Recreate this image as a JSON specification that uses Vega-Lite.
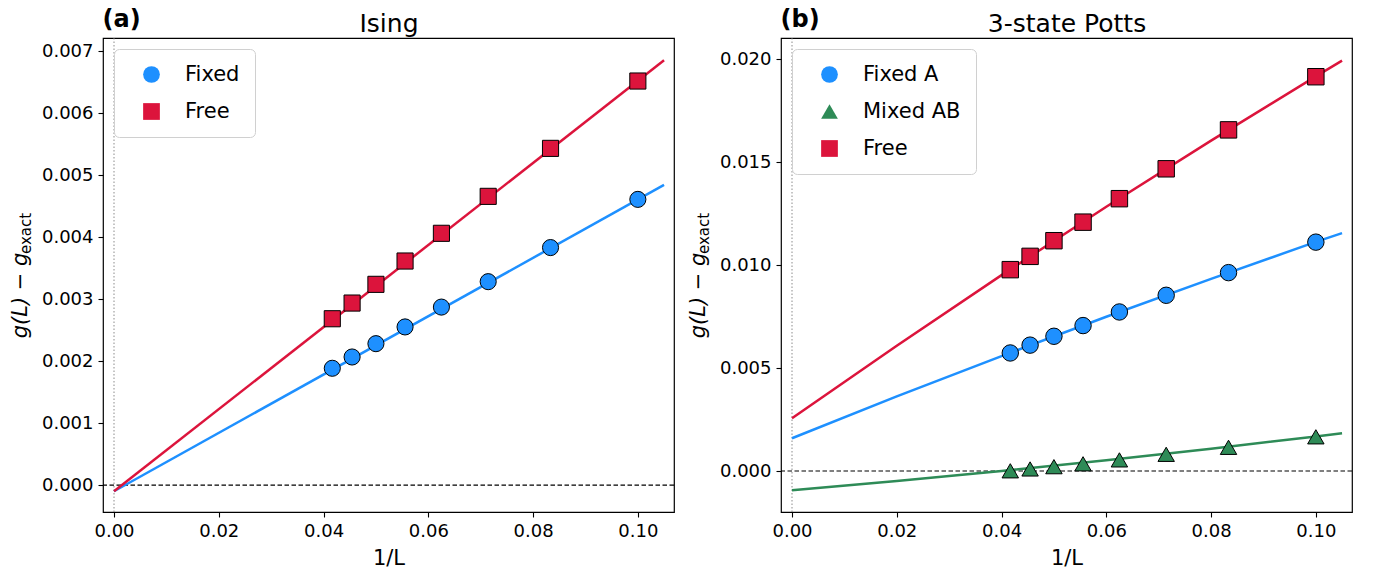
{
  "$schema": "https://vega.github.io/schema/vega-lite/v6.json",
  "background": "white",
  "padding": {"left": 8, "top": 6, "right": 5, "bottom": 0},
  "datasets": {
    "pa": [
      {"series": "Fixed", "x": 0.1, "y": 0.004607},
      {"series": "Fixed", "x": 0.08333, "y": 0.00383},
      {"series": "Fixed", "x": 0.07143, "y": 0.00328},
      {"series": "Fixed", "x": 0.0625, "y": 0.00287},
      {"series": "Fixed", "x": 0.05556, "y": 0.00255},
      {"series": "Fixed", "x": 0.05, "y": 0.00228},
      {"series": "Fixed", "x": 0.04545, "y": 0.002065},
      {"series": "Fixed", "x": 0.04167, "y": 0.001883},
      {"series": "Free", "x": 0.1, "y": 0.006516},
      {"series": "Free", "x": 0.08333, "y": 0.00543},
      {"series": "Free", "x": 0.07143, "y": 0.004656},
      {"series": "Free", "x": 0.0625, "y": 0.00406},
      {"series": "Free", "x": 0.05556, "y": 0.003613},
      {"series": "Free", "x": 0.05, "y": 0.003237},
      {"series": "Free", "x": 0.04545, "y": 0.002935},
      {"series": "Free", "x": 0.04167, "y": 0.002682}
    ],
    "fa": [
      {"series": "Fixed", "x": 0.0, "y": -0.0001},
      {"series": "Fixed", "x": 0.105, "y": 0.00484},
      {"series": "Free", "x": 0.0, "y": -0.0001},
      {"series": "Free", "x": 0.105, "y": 0.00685}
    ],
    "pb": [
      {"series": "Fixed A", "x": 0.1, "y": 0.01111},
      {"series": "Fixed A", "x": 0.08333, "y": 0.00963},
      {"series": "Fixed A", "x": 0.07143, "y": 0.00853},
      {"series": "Fixed A", "x": 0.0625, "y": 0.00772},
      {"series": "Fixed A", "x": 0.05556, "y": 0.00706},
      {"series": "Fixed A", "x": 0.05, "y": 0.00654},
      {"series": "Fixed A", "x": 0.04545, "y": 0.00611},
      {"series": "Fixed A", "x": 0.04167, "y": 0.00573},
      {"series": "Mixed AB", "x": 0.1, "y": 0.00166},
      {"series": "Mixed AB", "x": 0.08333, "y": 0.00115},
      {"series": "Mixed AB", "x": 0.07143, "y": 0.00081},
      {"series": "Mixed AB", "x": 0.0625, "y": 0.00054},
      {"series": "Mixed AB", "x": 0.05556, "y": 0.00035},
      {"series": "Mixed AB", "x": 0.05, "y": 0.00021},
      {"series": "Mixed AB", "x": 0.04545, "y": 0.0001},
      {"series": "Mixed AB", "x": 0.04167, "y": 0.00001},
      {"series": "Free", "x": 0.1, "y": 0.01914},
      {"series": "Free", "x": 0.08333, "y": 0.01656},
      {"series": "Free", "x": 0.07143, "y": 0.01467},
      {"series": "Free", "x": 0.0625, "y": 0.01322},
      {"series": "Free", "x": 0.05556, "y": 0.01208},
      {"series": "Free", "x": 0.05, "y": 0.01118},
      {"series": "Free", "x": 0.04545, "y": 0.01042},
      {"series": "Free", "x": 0.04167, "y": 0.009775}
    ],
    "fb": [
      {"series": "Fixed A", "x": 0.0, "y": 0.00159},
      {"series": "Fixed A", "x": 0.02, "y": 0.00362},
      {"series": "Fixed A", "x": 0.04, "y": 0.00558},
      {"series": "Fixed A", "x": 0.06, "y": 0.00749},
      {"series": "Fixed A", "x": 0.08, "y": 0.00933},
      {"series": "Fixed A", "x": 0.1, "y": 0.01112},
      {"series": "Fixed A", "x": 0.105, "y": 0.01155},
      {"series": "Mixed AB", "x": 0.0, "y": -0.00094},
      {"series": "Mixed AB", "x": 0.02, "y": -0.000486},
      {"series": "Mixed AB", "x": 0.04, "y": 0.000003},
      {"series": "Mixed AB", "x": 0.06, "y": 0.000526},
      {"series": "Mixed AB", "x": 0.08, "y": 0.001084},
      {"series": "Mixed AB", "x": 0.1, "y": 0.001677},
      {"series": "Mixed AB", "x": 0.105, "y": 0.00183},
      {"series": "Free", "x": 0.0, "y": 0.00256},
      {"series": "Free", "x": 0.02, "y": 0.00608},
      {"series": "Free", "x": 0.04, "y": 0.00951},
      {"series": "Free", "x": 0.06, "y": 0.01283},
      {"series": "Free", "x": 0.08, "y": 0.01604},
      {"series": "Free", "x": 0.1, "y": 0.01916},
      {"series": "Free", "x": 0.105, "y": 0.01992}
    ],
    "zero": [{"v": 0}]
  },
  "hconcat": [
    {
      "width": 571,
      "height": 474,
      "resolve": {"axis": {"x": "independent", "y": "independent"}},
      "layer": [
        {
          "data": {"name": "zero"},
          "mark": {"type": "rule", "color": "#808080", "strokeDash": [1.5, 2], "strokeWidth": 0.9},
          "encoding": {
            "x": {"field": "v", "type": "quantitative", "scale": {"domain": [-0.0021, 0.1069], "nice": false, "zero": false},
                  "axis": {"orient": "top", "title": "(a)", "labels": false, "ticks": false, "domain": false, "grid": false,
                           "titleFontSize": 24, "titleFontWeight": "bold", "titleX": -1, "titleY": -12, "titleAlign": "left", "titleBaseline": "alphabetic", "titleAngle": 0}}
          }
        },
        {
          "data": {"name": "zero"},
          "mark": {"type": "rule", "color": "black", "strokeDash": [4.5, 2.5], "strokeWidth": 1.2},
          "encoding": {
            "y": {"field": "v", "type": "quantitative", "scale": {"domain": [-0.000435, 0.00721], "nice": false, "zero": false}, "axis": null}
          }
        },
        {
          "data": {"name": "fa"},
          "mark": {"type": "line", "strokeWidth": 2.5},
          "encoding": {
            "x": {"field": "x", "type": "quantitative", "scale": {"domain": [-0.0021, 0.1069], "nice": false, "zero": false},
                  "axis": {"orient": "bottom", "title": "1/L", "values": [0, 0.02, 0.04, 0.06, 0.08, 0.1], "format": ".2f", "titleY": 52, "titleBaseline": "alphabetic"}},
            "y": {"field": "y", "type": "quantitative", "scale": {"domain": [-0.000435, 0.00721], "nice": false, "zero": false},
                  "axis": {"orient": "left", "title": "g(L) − g", "values": [0, 0.001, 0.002, 0.003, 0.004, 0.005, 0.006, 0.007], "format": ".3f",
                           "titleFontStyle": "italic", "titleX": -77, "titleY": 257, "titleAngle": -90, "titleAlign": "center", "titleBaseline": "alphabetic"}},
            "stroke": {"field": "series", "type": "nominal", "scale": {"domain": ["Free", "Fixed"], "range": ["#DC143C", "#1E90FF"]}, "legend": null}
          }
        },
        {
          "data": {"name": "pa"},
          "mark": {"type": "point", "filled": true, "stroke": "black", "strokeWidth": 1, "opacity": 1, "size": 260},
          "encoding": {
            "x": {"field": "x", "type": "quantitative", "scale": {"domain": [-0.0021, 0.1069], "nice": false, "zero": false},
                  "axis": {"orient": "top", "title": "Ising", "labels": false, "ticks": false, "domain": false, "grid": false,
                           "titleFontSize": 25, "titleFontWeight": "normal", "titleY": -7, "titleBaseline": "alphabetic", "titleAngle": 0}},
            "y": {"field": "y", "type": "quantitative", "scale": {"domain": [-0.000435, 0.00721], "nice": false, "zero": false},
                  "axis": {"orient": "left", "title": "exact", "labels": false, "ticks": false, "domain": false, "grid": false,
                           "titleFontSize": 15, "titleX": -73, "titleY": 195, "titleAngle": -90, "titleAlign": "center", "titleBaseline": "alphabetic"}},
            "fill": {"field": "series", "type": "nominal", "scale": {"domain": ["Fixed", "Free"], "range": ["#1E90FF", "#DC143C"]}, "title": null,
                     "legend": {"symbolStrokeColor": "black", "encode": {"symbols": {"stroke": {"value": "black"}, "strokeWidth": {"value": 1}, "size": {"value": 280}, "opacity": {"value": 1}}}}},
            "shape": {"field": "series", "type": "nominal", "scale": {"domain": ["Fixed", "Free"], "range": ["circle", "square"]}, "title": null,
                      "legend": {"symbolStrokeColor": "black", "encode": {"symbols": {"stroke": {"value": "black"}, "strokeWidth": {"value": 1}, "size": {"value": 280}, "opacity": {"value": 1}}}}}
          }
        }
      ]
    },
    {
      "width": 571,
      "height": 474,
      "resolve": {"axis": {"x": "independent", "y": "independent"}},
      "layer": [
        {
          "data": {"name": "zero"},
          "mark": {"type": "rule", "color": "#808080", "strokeDash": [1.5, 2], "strokeWidth": 0.9},
          "encoding": {
            "x": {"field": "v", "type": "quantitative", "scale": {"domain": [-0.0021, 0.1069], "nice": false, "zero": false},
                  "axis": {"orient": "top", "title": "(b)", "labels": false, "ticks": false, "domain": false, "grid": false,
                           "titleFontSize": 24, "titleFontWeight": "bold", "titleX": -1, "titleY": -12, "titleAlign": "left", "titleBaseline": "alphabetic", "titleAngle": 0}}
          }
        },
        {
          "data": {"name": "zero"},
          "mark": {"type": "rule", "color": "black", "strokeDash": [4.5, 2.5], "strokeWidth": 1.2},
          "encoding": {
            "y": {"field": "v", "type": "quantitative", "scale": {"domain": [-0.00199, 0.02102], "nice": false, "zero": false}, "axis": null}
          }
        },
        {
          "data": {"name": "fb"},
          "mark": {"type": "line", "strokeWidth": 2.5},
          "encoding": {
            "x": {"field": "x", "type": "quantitative", "scale": {"domain": [-0.0021, 0.1069], "nice": false, "zero": false},
                  "axis": {"orient": "bottom", "title": "1/L", "values": [0, 0.02, 0.04, 0.06, 0.08, 0.1], "format": ".2f", "titleY": 52, "titleBaseline": "alphabetic"}},
            "y": {"field": "y", "type": "quantitative", "scale": {"domain": [-0.00199, 0.02102], "nice": false, "zero": false},
                  "axis": {"orient": "left", "title": "g(L) − g", "values": [0, 0.005, 0.01, 0.015, 0.02], "format": ".3f",
                           "titleFontStyle": "italic", "titleX": -77, "titleY": 257, "titleAngle": -90, "titleAlign": "center", "titleBaseline": "alphabetic"}},
            "stroke": {"field": "series", "type": "nominal", "scale": {"domain": ["Free", "Mixed AB", "Fixed A"], "range": ["#DC143C", "#2E8B57", "#1E90FF"]}, "legend": null}
          }
        },
        {
          "data": {"name": "pb"},
          "mark": {"type": "point", "filled": true, "stroke": "black", "strokeWidth": 1, "opacity": 1, "size": 270},
          "encoding": {
            "x": {"field": "x", "type": "quantitative", "scale": {"domain": [-0.0021, 0.1069], "nice": false, "zero": false},
                  "axis": {"orient": "top", "title": "3-state Potts", "labels": false, "ticks": false, "domain": false, "grid": false,
                           "titleFontSize": 25, "titleFontWeight": "normal", "titleY": -7, "titleBaseline": "alphabetic", "titleAngle": 0}},
            "y": {"field": "y", "type": "quantitative", "scale": {"domain": [-0.00199, 0.02102], "nice": false, "zero": false},
                  "axis": {"orient": "left", "title": "exact", "labels": false, "ticks": false, "domain": false, "grid": false,
                           "titleFontSize": 15, "titleX": -73, "titleY": 195, "titleAngle": -90, "titleAlign": "center", "titleBaseline": "alphabetic"}},
            "fill": {"field": "series", "type": "nominal", "scale": {"domain": ["Fixed A", "Mixed AB", "Free"], "range": ["#1E90FF", "#2E8B57", "#DC143C"]}, "title": null,
                     "legend": {"symbolStrokeColor": "black", "encode": {"symbols": {"stroke": {"value": "black"}, "strokeWidth": {"value": 1}, "size": {"value": 280}, "opacity": {"value": 1}}}}},
            "shape": {"field": "series", "type": "nominal", "scale": {"domain": ["Fixed A", "Mixed AB", "Free"], "range": ["circle", "triangle-up", "square"]}, "title": null,
                      "legend": {"symbolStrokeColor": "black", "encode": {"symbols": {"stroke": {"value": "black"}, "strokeWidth": {"value": 1}, "size": {"value": 280}, "opacity": {"value": 1}}}}}
          }
        }
      ]
    }
  ],
  "spacing": 10,
  "resolve": {"scale": {"x": "independent", "y": "independent", "fill": "independent", "stroke": "independent", "shape": "independent"}},
  "config": {
    "font": "DejaVu Sans",
    "view": {"stroke": "black", "strokeWidth": 1.2},
    "axis": {
      "labelFont": "DejaVu Sans", "labelFontSize": 18, "labelColor": "black", "labelPadding": 5,
      "tickColor": "black", "tickSize": 5, "tickWidth": 1.1, "domain": false, "grid": false,
      "titleFont": "DejaVu Sans", "titleFontSize": 21, "titleColor": "black", "titleFontWeight": "normal"
    },
    "legend": {
      "orient": "top-left", "offset": 11, "padding": 15, "strokeColor": "#d0d0d0", "cornerRadius": 5,
      "fillColor": "rgba(255,255,255,0.8)", "labelFont": "DejaVu Sans", "labelFontSize": 21, "labelColor": "black",
      "symbolSize": 280, "symbolStrokeColor": "black", "symbolStrokeWidth": 1, "symbolOffset": 12, "labelOffset": 23, "rowPadding": 15
    }
  }
}
